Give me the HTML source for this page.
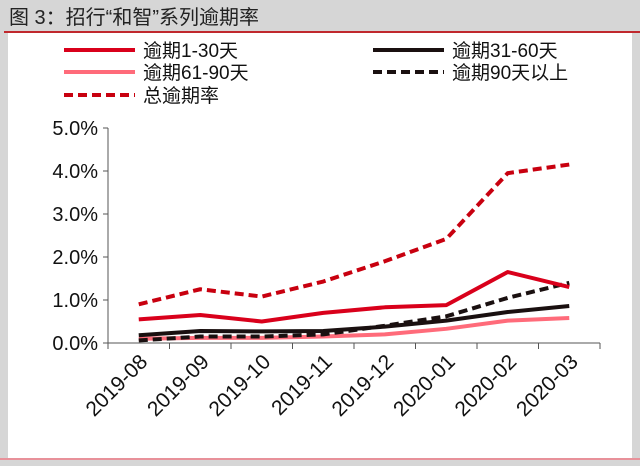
<!DOCTYPE html>
<html><head><meta charset="utf-8"><style>
body{margin:0;width:640px;height:461px;background:#d6d6d6;overflow:hidden;font-family:"Liberation Sans","Noto Sans CJK SC",sans-serif}
</style></head><body>
<svg width="640" height="461" xmlns="http://www.w3.org/2000/svg">
<rect x="0" y="0" width="640" height="461" fill="#d6d6d6"/>
<rect x="8" y="33" width="624" height="425" fill="#fff"/>
<text x="9" y="24" font-size="20" fill="#222">图 3：招行“和智”系列逾期率</text>
<line x1="4" y1="32" x2="640" y2="32" stroke="#c0282d" stroke-width="2"/>
<line x1="0" y1="459" x2="640" y2="459" stroke="#e8919a" stroke-width="2"/>
<g id="legend" font-size="19" fill="#111"></g>
<g id="axes"></g>
<g id="series"></g>
</svg>
<script>
const categories=["2019-08","2019-09","2019-10","2019-11","2019-12","2020-01","2020-02","2020-03"];
const s1_30=[0.55,0.65,0.5,0.7,0.83,0.88,1.65,1.3];
const s31_60=[0.18,0.28,0.27,0.28,0.38,0.52,0.72,0.86];
const s61_90=[0.1,0.12,0.12,0.15,0.2,0.33,0.52,0.58];
const s90p=[0.06,0.15,0.15,0.2,0.4,0.62,1.05,1.4];
const sTotal=[0.9,1.25,1.08,1.43,1.9,2.42,3.95,4.15];
const yTicks=[0,1,2,3,4,5];
const yTickLabels=["0.0%","1.0%","2.0%","3.0%","4.0%","5.0%"];
const NS="http://www.w3.org/2000/svg";
const x0=108,x1=600,yb=343,yt=128,ymax=5;
const bw=(x1-x0)/categories.length;
const xs=i=>x0+bw*(i+0.5);
const ys=v=>yb-(v/ymax)*(yb-yt);
function mk(t,a,p){const e=document.createElementNS(NS,t);for(const k in a)e.setAttribute(k,a[k]);p.appendChild(e);return e;}
const ax=document.getElementById('axes');


const ya=mk('line',{x1:x0,y1:yt,x2:x0,y2:yb,stroke:'#555','stroke-width':1},ax);


const xa=mk('line',{x1:x0,y1:yb,x2:x1,y2:yb,stroke:'#555','stroke-width':1},ax);


yTicks.forEach((v,i)=>{
 const tk=mk('line',{x1:x0-5,y1:ys(v),x2:x0,y2:ys(v),stroke:'#555'},ax);
 
 
 const t=mk('text',{x:x0-10,y:ys(v)+7,'text-anchor':'end','font-size':20,fill:'#111'},ax);
 t.textContent=yTickLabels[i];
 
 
});
for(let i=0;i<=categories.length;i++){
 const tk=mk('line',{x1:x0+bw*i,y1:yb,x2:x0+bw*i,y2:yb+6,stroke:'#555'},ax);
 
 
}
categories.forEach((c,i)=>{
 const x=xs(i)+10,y=yb+20;
 const t=mk('text',{x:x,y:y,'text-anchor':'end','font-size':21,fill:'#111',transform:`rotate(-45 ${x} ${y})`},ax);
 t.textContent=c;
 
 
});
const series=[
 {name:'逾期1-30天',data:s1_30,color:'#d9001b',dash:'',w:4,id:'series-1-30'},
 {name:'逾期31-60天',data:s31_60,color:'#1a1010',dash:'',w:4,id:'series-31-60'},
 {name:'逾期61-90天',data:s61_90,color:'#ff6b7a',dash:'',w:4,id:'series-61-90'},
 {name:'逾期90天以上',data:s90p,color:'#1a1010',dash:'9,5',w:4,id:'series-90-plus'},
 {name:'总逾期率',data:sTotal,color:'#c8000f',dash:'9,5',w:4,id:'series-total'}
];
const sg=document.getElementById('series');


const order=[2,1,3,0,4];
order.forEach(k=>{const s=series[k];
 const p=mk('polyline',{points:s.data.map((v,i)=>xs(i)+','+ys(v)).join(' '),fill:'none',stroke:s.color,'stroke-width':s.w,'stroke-dasharray':s.dash,'stroke-linejoin':'round'},sg);
 
 
});
const lg=document.getElementById('legend');
const pos=[[64,50],[373,50],[64,72],[373,72],[64,95]];
series.forEach((s,i)=>{const [x,y]=pos[i];
 const l=mk('line',{x1:x,y1:y,x2:x+71,y2:y,stroke:s.color,'stroke-width':4,'stroke-dasharray':s.dash},lg);
 
 
 const t=mk('text',{x:x+79,y:y+7},lg);
 t.textContent=s.name;
 
 
});
</script>
</body></html>
